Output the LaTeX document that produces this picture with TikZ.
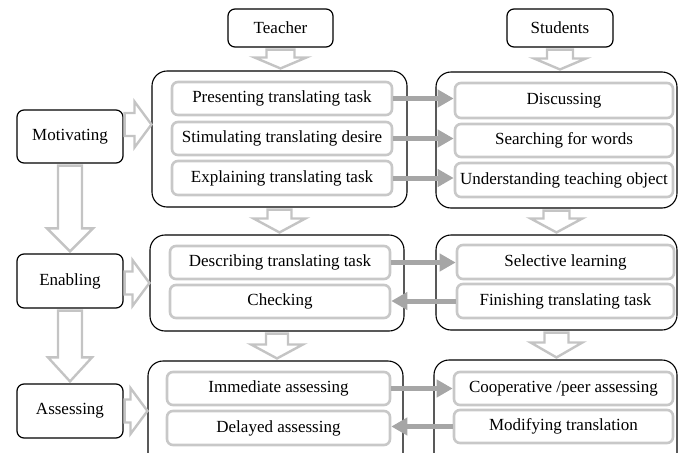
\documentclass[tikz,border=0pt]{standalone}
\usepackage{fontspec}
\setmainfont{Liberation Serif}
\usetikzlibrary{arrows.meta, calc}
\definecolor{cframe}{HTML}{C8C8C8}
\definecolor{carrow}{HTML}{A6A6A6}
\definecolor{chollow}{HTML}{C4C4C4}
\tikzset{
  every picture/.style={font=\fontsize{17}{19}\selectfont, line width=1.2pt},
  role/.style={draw=black, rounded corners=7pt, minimum width=106pt, inner sep=0pt},
  panel/.style={draw=black, rounded corners=15pt, line width=1.1pt, inner sep=0pt},
  item/.style={draw=cframe, rounded corners=6pt, line width=2.6pt, minimum height=33pt, inner sep=0pt},
  link/.style={-{Triangle[length=16pt, width=17pt]}, draw=carrow, line width=5pt},
  hollow/.style={draw=chollow, line width=2.4pt, fill=white, line join=miter},
}

\begin{document}
\begin{tikzpicture}[x=1pt, y=-1pt]
  \clip (0,0) rectangle (681,453);
  % who acts
  \node[role, minimum height=38pt, minimum width=105pt] (teacher) at (280.5,28) {Teacher};
  \node[role, minimum height=38pt] (students) at (560,28) {Students};
  \node[role, minimum height=53pt] (mot) at (70,136.5) {Motivating};
  \node[role, minimum height=54pt] (ena) at (70,281) {Enabling};
  \node[role, minimum height=54pt] (ass) at (70,411) {Assessing};
  % the six panels
  \node[panel, minimum width=255pt, minimum height=136pt] (pl1) at (279.5,139) {};
  \node[panel, minimum width=241pt, minimum height=136pt] (pr1) at (556.5,140) {};
  \node[panel, minimum width=254pt, minimum height=96pt] (pl2) at (277,283) {};
  \node[panel, minimum width=241pt, minimum height=95pt] (pr2) at (556.5,282.5) {};
  \node[panel, minimum width=255pt, minimum height=110pt] (pl3) at (275.5,416) {};
  \node[panel, minimum width=243pt, minimum height=110pt] (pr3) at (555.5,415) {};
  % steps of the teacher
  \node[item, minimum width=220pt] (pres) at (282,98.5) {Presenting translating task};
  \node[item, minimum width=220pt] (stim) at (282,138.5) {Stimulating translating desire};
  \node[item, minimum width=220pt, minimum height=34pt] (expl) at (282,178) {Explaining translating task};
  \node[item, minimum width=220pt] (desc) at (280,262.5) {Describing translating task};
  \node[item, minimum width=220pt] (chk) at (280,301.5) {Checking};
  \node[item, minimum width=223pt] (imm) at (278.5,388.5) {Immediate assessing};
  \node[item, minimum width=223pt, minimum height=34pt] (del) at (278.5,428) {Delayed assessing};
  % steps of the students
  \node[item, minimum width=218pt, minimum height=35pt] (disc) at (564,100.5) {Discussing};
  \node[item, minimum width=218pt] (srch) at (564,140.5) {Searching for words};
  \node[item, minimum width=218pt, minimum height=34pt] (undr) at (564,180) {Understanding teaching object};
  \node[item, minimum width=217pt, minimum height=34pt] (sel) at (565.5,262) {Selective learning};
  \node[item, minimum width=217pt, minimum height=34pt] (fin) at (565.5,301) {Finishing translating task};
  \node[item, minimum width=219pt] (coop) at (563.5,388.5) {Cooperative /peer assessing};
  \node[item, minimum width=219pt] (modi) at (563.5,426.5) {Modifying translation};
  % links between the two sides
  \foreach \a/\b in {pres/disc, stim/srch, expl/undr, desc/sel, imm/coop}
    \draw[link] (\a.east) -- (\a.east -| \b.west);
  \foreach \a/\b in {fin/chk, modi/del}
    \draw[link] (\a.west) -- (\a.west -| \b.east);
  % hollow arrows downwards: from/to/shaft/head/head length
  \foreach \from/\to/\s/\h/\l in {teacher/pl1/14/26/11, students/pr1/13/26/11, pl1/pl2/12/26/14, pr1/pr2/13/26/14,
      pl2/pl3/11/26/14, pr2/pr3/12/26/15, mot/ena/12/23/23, ena/ass/12/22/24}
    \draw[hollow] let \p1=(\from.south), \p2=(\to.north) in
      ({\x1-\s*1pt},{\y1-2pt}) -- ({\x1+\s*1pt},{\y1-2pt}) -- ({\x1+\s*1pt},{\y2+2pt+\l*1pt})
      -- ({\x1+\h*1pt},{\y2+2pt+\l*1pt}) -- (\x1,{\y2+2pt}) -- ({\x1-\h*1pt},{\y2+2pt+\l*1pt})
      -- ({\x1-\s*1pt},{\y2+2pt+\l*1pt}) -- cycle;
  % hollow arrows to the right: from/to/shift
  \foreach \from/\to/\d in {mot/pl1/12, ena/pl2/-2, ass/pl3/0}
    \draw[hollow] let \p1=(\from.east), \p2=(\to.west) in
      ({\x1+1pt},{\y1+\d*1pt+11.5pt}) -- ({\x2-17pt},{\y1+\d*1pt+11.5pt}) -- ({\x2-17pt},{\y1+\d*1pt+23pt})
      -- (\x2,{\y1+\d*1pt}) -- ({\x2-17pt},{\y1+\d*1pt-23pt}) -- ({\x2-17pt},{\y1+\d*1pt-11.5pt})
      -- ({\x1+1pt},{\y1+\d*1pt-11.5pt}) -- cycle;
\end{tikzpicture}
\end{document}
